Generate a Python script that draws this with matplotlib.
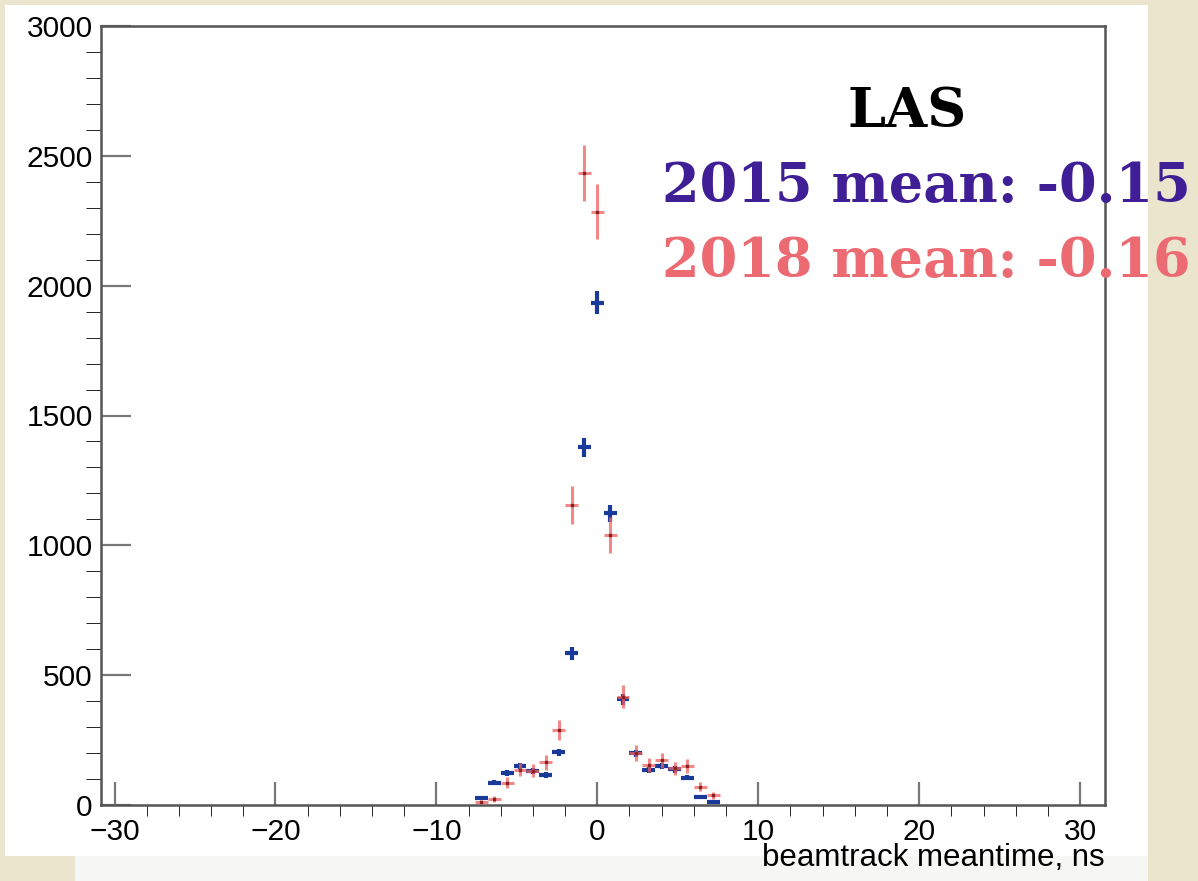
import numpy as np
import matplotlib.pyplot as plt
from matplotlib.patches import Rectangle

# bin centres (ns), bin width 0.8
bin_index = [-9, -8, -7, -6, -5, -4, -3, -2, -1, 0, 1, 2, 3, 4, 5, 6, 7, 8, 9]
bin_width = 0.8

counts_2015 = [26, 86, 124, 150, 131, 115, 203, 584, 1377, 1934, 1123, 407,
               199, 135, 150, 137, 105, 32, 10]
errors_2015 = [5, 9, 11, 12, 11, 11, 14, 24, 37, 44, 34, 20,
               14, 12, 12, 12, 10, 6, 3]

counts_2018 = [13, 23, 86, 135, 132, 164, 289, 1155, 2435, 2285, 1040, 417,
               201, 154, 173, 141, 151, 71, 38]
errors_2018 = [8, 10, 20, 25, 25, 28, 37, 74, 108, 105, 71, 45,
               31, 27, 29, 26, 27, 18, 13]

W, H = 1198, 881
fig = plt.figure(figsize=(W / 100, H / 100), dpi=100, facecolor="#ece5cd")

# slide-like white panel
fig.patches.append(Rectangle((5 / W, 1 - 856 / H), 1143 / W, 851 / H,
                             transform=fig.transFigure, facecolor="white",
                             edgecolor="none", zorder=-10))
fig.patches.append(Rectangle((75 / W, 0), 1073 / W, 1 - 856 / H,
                             transform=fig.transFigure, facecolor="#f6f6f4",
                             edgecolor="none", zorder=-10))

ax = fig.add_axes([101 / W, 1 - 805 / H, 1004 / W, 779 / H])
ax.set_facecolor("none")
ax.set_zorder(1)

x = np.array(bin_index) * bin_width

ax.errorbar(x, counts_2015, xerr=bin_width / 2, yerr=errors_2015, fmt="none",
            ecolor="#1a3a9a", elinewidth=3.0, capsize=0, zorder=3)
ax.errorbar(x, counts_2018, xerr=bin_width / 2, yerr=errors_2018, fmt="none",
            ecolor="#f06060", elinewidth=2.2, capsize=0, alpha=0.75, zorder=4)
ax.plot(x, counts_2018, ls="none", marker="s", ms=1.5, color="#8a2020",
        zorder=5)

ax.set_xlim(-30.84, 31.55)
ax.set_ylim(0, 3000)
ax.set_xticks([-30, -20, -10, 0, 10, 20, 30])
ax.set_xticks(np.arange(-30, 31, 2), minor=True)
ax.set_yticks([0, 500, 1000, 1500, 2000, 2500, 3000])
ax.set_yticks(np.arange(0, 3001, 100), minor=True)

for s in ax.spines.values():
    s.set_color("#555555")
    s.set_linewidth(1.8)

ax.tick_params(axis="both", direction="in", colors="#777777", width=1.6,
               labelcolor="black", labelsize=21.5)
ax.tick_params(axis="x", which="major", length=16.5, pad=9)
ax.tick_params(axis="x", which="minor", length=8)
ax.tick_params(axis="y", which="major", length=21.5, pad=6)
ax.tick_params(axis="y", which="minor", length=10.8)
ax.tick_params(top=False, right=False, which="both")
for lab in ax.get_xticklabels() + ax.get_yticklabels():
    lab.set_fontfamily("Liberation Sans")

fig.text(1105 / W, 1 - 866 / H, "beamtrack meantime, ns", ha="right",
         va="baseline", fontsize=22.5, family="Liberation Sans", zorder=5)

serif = dict(family="DejaVu Serif", weight="bold", fontsize=39, zorder=5)
fig.text(907 / W, 1 - 127 / H, "LAS", ha="center", va="baseline",
         color="black", **serif)
fig.text(662 / W, 1 - 202 / H, "2015 mean: -0.15", ha="left", va="baseline",
         color="#3f1e96", **serif)
fig.text(662 / W, 1 - 277 / H, "2018 mean: -0.16", ha="left", va="baseline",
         color="#ec6b73", **serif)

fig.savefig("out.png", dpi=100, facecolor=fig.get_facecolor())
